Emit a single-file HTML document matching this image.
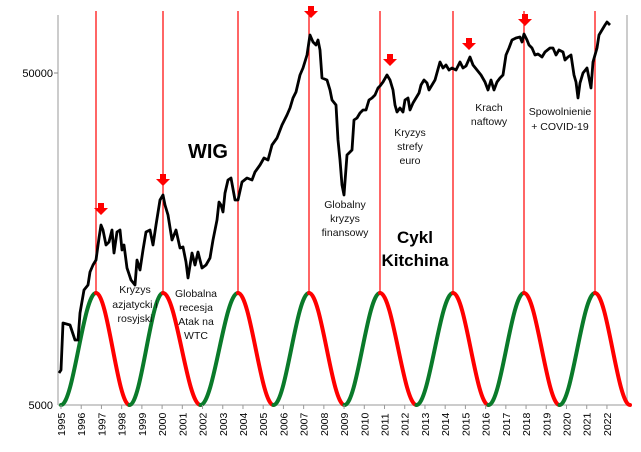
<!DOCTYPE html>
<html><head><meta charset="utf-8"><style>
html,body{margin:0;padding:0;background:#fff;width:641px;height:452px;overflow:hidden}
svg{display:block;font-family:"Liberation Sans",sans-serif}
</style></head><body>
<svg id="s" width="641" height="452" viewBox="0 0 641 452" xmlns="http://www.w3.org/2000/svg">
<line x1="58" y1="15" x2="58" y2="405" stroke="#bbb" stroke-width="1.5"/>
<line x1="627" y1="15" x2="627" y2="405" stroke="#bbb" stroke-width="1.5"/>
<line x1="58" y1="405" x2="627" y2="405" stroke="#bbb" stroke-width="1.5"/>
<line x1="54" y1="73" x2="58" y2="73" stroke="#888"/>
<text x="53" y="77" font-size="11" text-anchor="end">50000</text>
<text x="53" y="409" font-size="11" text-anchor="end">5000</text>
<g stroke="#f00" stroke-width="1.2">
<line x1="96" y1="11" x2="96" y2="293"/><line x1="163" y1="11" x2="163" y2="293"/>
<line x1="238" y1="11" x2="238" y2="293"/><line x1="309" y1="11" x2="309" y2="293"/>
<line x1="380" y1="11" x2="380" y2="293"/><line x1="453" y1="11" x2="453" y2="293"/>
<line x1="524" y1="11" x2="524" y2="293"/><line x1="595" y1="11" x2="595" y2="293"/>
</g>
<g id="waves" fill="none" stroke-width="4" stroke-linecap="round"></g>
<g id="years" font-size="10.5"></g>
<polyline fill="none" stroke="#000" stroke-width="2.8" stroke-linejoin="round" points="59,373 61,370 63,323 70,325 75,340 78,340 80,313 84,290 88,285 90,272 93,265 96,260 99,238 101,225 103,230 106,245 109,242 112,230 114,253 117,232 120,230 122,250 124,245 127,268 131,280 135,285 137,260 140,270 143,250 146,232 150,230 153,245 156,225 160,200 163,195 165,205 168,215 172,240 176,230 180,248 183,247 186,262 188,278 192,253 195,265 198,252 202,268 206,265 210,258 213,240 217,220 219,202 221,205 223,212 225,193 228,180 231,178 235,200 238,200 242,182 247,178 252,180 255,172 260,165 264,158 268,160 272,145 277,138 282,125 287,115 290,108 293,98 296,92 300,75 303,68 307,55 310,35 313,42 316,45 318,40 320,50 322,78 327,80 330,90 332,100 336,105 338,140 340,160 342,185 344,195 347,155 352,150 354,120 357,118 360,113 363,110 366,110 369,100 372,98 375,95 378,88 380,86 383,82 387,75 390,80 393,90 395,105 397,112 400,108 403,112 405,100 408,98 410,110 413,103 416,98 419,93 421,85 424,80 427,83 429,90 432,85 435,80 440,62 443,68 446,65 449,70 452,68 456,70 460,62 463,68 466,66 470,57 473,65 477,70 481,75 485,82 488,90 491,80 494,90 497,82 500,78 503,75 506,55 509,48 512,40 516,38 520,37 522,42 524,34 527,40 529,45 532,48 535,55 538,54 542,57 545,52 550,48 553,48 556,55 559,50 563,52 565,60 568,57 571,55 574,75 576,82 578,98 580,83 583,73 587,68 589,78 591,88 593,62 595,55 597,48 599,35 602,30 605,25 607,22 610,25"/>
<g fill="#f00" id="arrows"></g>
<text x="188" y="158" font-size="20" font-weight="bold">WIG</text>
<text x="415" y="243" font-size="17" font-weight="bold" text-anchor="middle">Cykl</text>
<text x="415" y="266" font-size="17" font-weight="bold" text-anchor="middle">Kitchina</text>
<g font-size="10.5" text-anchor="middle" fill="#111">
<text x="135" y="293">Kryzys</text><text x="135" y="308">azjatycki i</text><text x="135" y="322">rosyjski</text>
<text x="196" y="297">Globalna</text><text x="196" y="311">recesja</text><text x="196" y="325">Atak na</text><text x="196" y="339">WTC</text>
<text x="345" y="208">Globalny</text><text x="345" y="222">kryzys</text><text x="345" y="236">finansowy</text>
<text x="410" y="136">Kryzys</text><text x="410" y="150">strefy</text><text x="410" y="164">euro</text>
<text x="489" y="111">Krach</text><text x="489" y="125">naftowy</text>
<text x="560" y="115">Spowolnienie</text><text x="560" y="130">+ COVID-19</text>
</g>
</svg>
<script>
var ns="http://www.w3.org/2000/svg",w=document.getElementById('waves');
var peaks=[96,163,238,309,380,453,524,595];
function seg(x0,y0,x1,y1,c){var p=document.createElementNS(ns,'path');var d=(x1-x0)*0.36;
p.setAttribute('d','M'+x0+','+y0+' C'+(x0+d)+','+y0+' '+(x1-d)+','+y1+' '+x1+','+y1);p.setAttribute('stroke',c);w.appendChild(p);}
for(var i=0;i<peaks.length;i++){var p=peaks[i];var tl=i==0?61:(peaks[i-1]+p)/2;var tr=i==peaks.length-1?630:(p+peaks[i+1])/2;
seg(tl,405,p,293,'#0a7a2a');seg(p,293,tr,405,'#f00');}
var y=document.getElementById('years');
for(var k=0;k<28;k++){var x=61+k*20.22;var t=document.createElementNS(ns,'text');t.setAttribute('transform','translate('+(x+4)+',436) rotate(-90)');t.textContent=1995+k;y.appendChild(t);
var l=document.createElementNS(ns,'line');l.setAttribute('x1',x);l.setAttribute('x2',x);l.setAttribute('y1',405);l.setAttribute('y2',409);l.setAttribute('stroke','#999');y.appendChild(l);}
var a=document.getElementById('arrows');
[[101,211],[163,182],[311,14],[390,62],[469,46],[525,22]].forEach(function(q){var p=document.createElementNS(ns,'path');var x=q[0],yy=q[1];
p.setAttribute('d','M'+(x-3)+','+(yy-8)+' h6 v5 h4 l-7,7 l-7,-7 h4z');a.appendChild(p);});
</script>
</body></html>
